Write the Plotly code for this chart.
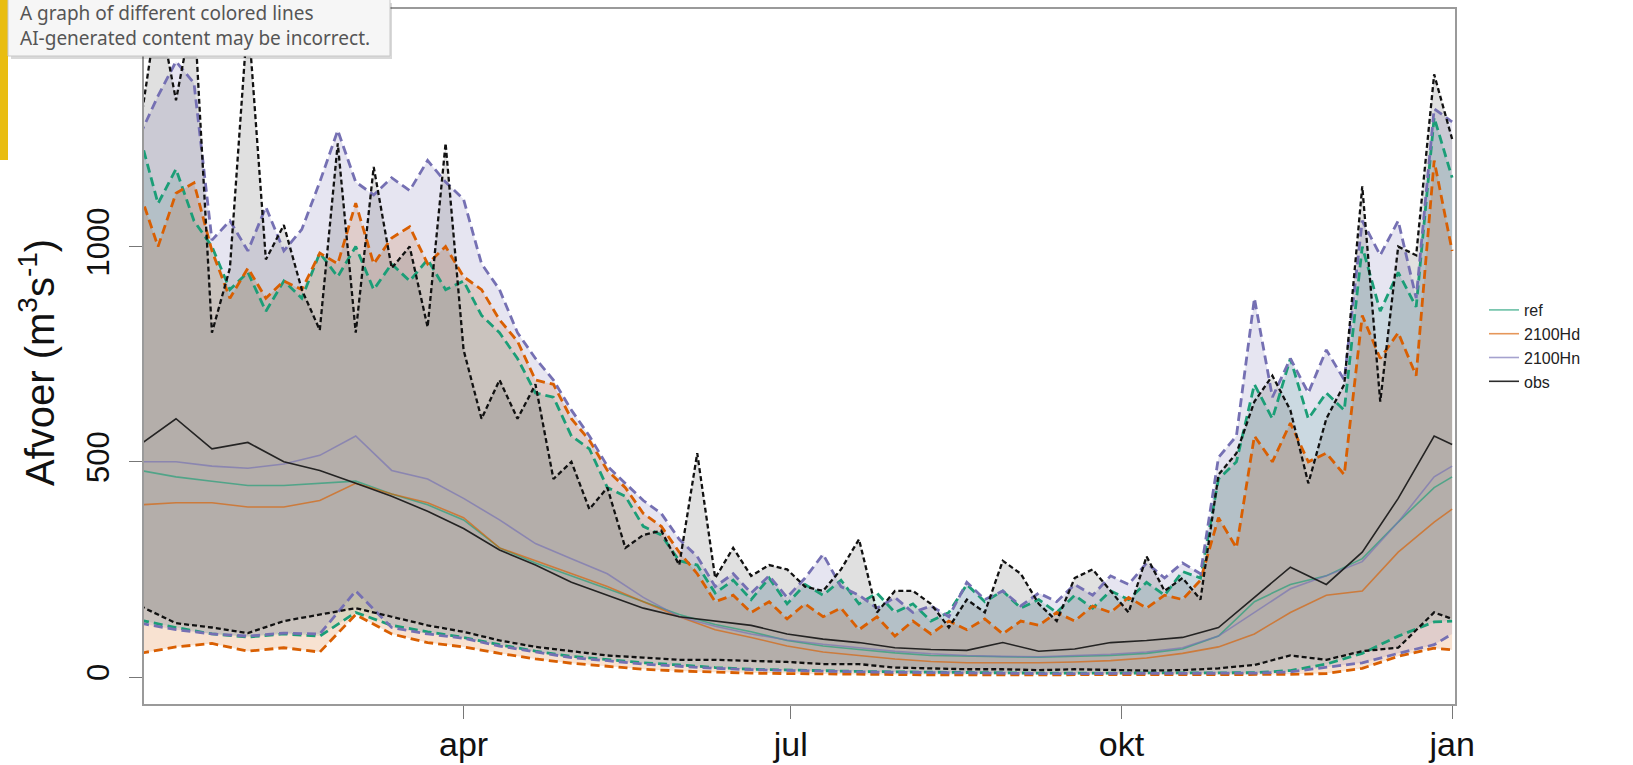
import plotly.graph_objects as go

# ---------------- data (day of year) ----------------
days_hi = list(range(1, 367, 5))               # grid for the maximum (upper dashed) lines
days_lo = list(range(1, 362, 10)) + [366]      # grid for the median and minimum lines

month_days = [91, 182, 274, 366]
month_labels = ["apr", "jul", "okt", "jan"]
y_ticks = [0, 500, 1000, 1500]
y_labels = ["0", "500", "1000", "1500"]

obs_hi = [1280, 1560, 1340, 1560, 800, 950, 1540, 970, 1050, 900,
          806, 1240, 800, 1185, 950, 1000, 813, 1240, 760, 600,
          690, 600, 680, 460, 500, 390, 440, 300, 330, 340,
          260, 520, 230, 300, 235, 260, 250, 210, 200, 250,
          320, 150, 200, 200, 170, 115, 180, 150, 270, 240,
          170, 130, 230, 250, 200, 150, 280, 200, 230, 180,
          470, 520, 640, 700, 620, 450, 600, 680, 1140, 640,
          1000, 980, 1400, 1250]
hn_hi = [1260, 1350, 1430, 1380, 1015, 1060, 990, 1092, 990, 1040,
         1150, 1270, 1150, 1120, 1160, 1130, 1200, 1150, 1110, 960,
         900, 800, 740, 690, 620, 560, 490, 450, 410, 380,
         320, 280, 210, 240, 195, 235, 185, 230, 285, 210,
         190, 160, 185, 150, 165, 140, 220, 180, 200, 165,
         195, 175, 215, 190, 235, 215, 265, 230, 265, 240,
         510, 560, 880, 650, 740, 660, 760, 690, 1060, 980,
         1060, 880, 1320, 1290]
ref_hi = [1255, 1100, 1180, 1060, 1000, 900, 940, 850, 920, 880,
          985, 930, 1000, 900, 960, 920, 970, 900, 920, 840,
          800, 740, 660, 650, 560, 530, 440, 420, 350, 330,
          270, 260, 195, 225, 180, 230, 170, 215, 190, 225,
          170, 195, 150, 170, 130, 150, 215, 175, 200, 160,
          180, 150, 190, 160, 200, 180, 220, 190, 245, 230,
          460, 500, 680, 600, 740, 600, 660, 620, 1000, 850,
          940, 860, 1300, 1160]
hd_hi = [1124, 1000, 1124, 1148, 990, 880, 950, 880, 920, 900,
         985, 960, 1101, 960, 1020, 1046, 960, 1000, 930, 900,
         830, 780, 690, 680, 600, 550, 480, 440, 380, 350,
         290, 240, 175, 190, 150, 175, 135, 170, 140, 160,
         110, 140, 95, 130, 100, 130, 110, 135, 100, 130,
         120, 150, 130, 165, 150, 185, 160, 190, 180, 225,
         370, 300, 560, 500, 590, 500, 520, 470, 840, 740,
         800, 700, 1200, 990]

obs_med = [540, 600, 530, 545, 500, 480, 450, 420, 385, 345,
           295, 260, 220, 190, 160, 140, 130, 120, 100, 88,
           80, 68, 64, 62, 80, 60, 65, 80, 85, 92,
           115, 185, 255, 215, 290, 415, 560, 540]
ref_med = [480, 465, 455, 445, 445, 450, 455, 425, 400, 365,
           300, 265, 235, 205, 175, 145, 122, 105, 85, 72,
           64, 56, 50, 48, 47, 46, 48, 50, 55, 65,
           95, 175, 215, 235, 275, 360, 440, 465]
hd_med = [400, 405, 405, 395, 395, 410, 450, 425, 405, 370,
          300, 270, 240, 210, 175, 140, 110, 92, 72, 58,
          50, 42, 36, 33, 33, 33, 35, 38, 44, 55,
          70, 100, 150, 190, 200, 290, 360, 390]
hn_med = [500, 500, 490, 485, 495, 515, 560, 480, 460, 415,
          365, 310, 275, 240, 185, 140, 118, 100, 86, 76,
          68, 60, 54, 50, 48, 47, 50, 53, 58, 68,
          95, 150, 205, 235, 268, 360, 465, 490]

obs_lo = [165, 125, 115, 102, 130, 145, 160, 140, 120, 105,
          85, 70, 60, 50, 45, 40, 40, 38, 35, 30,
          30, 22, 20, 18, 18, 16, 18, 16, 15, 16,
          20, 28, 50, 40, 60, 68, 150, 135]
ref_lo = [132, 115, 100, 93, 100, 95, 150, 120, 105, 92,
          75, 60, 48, 40, 33, 28, 22, 18, 16, 14,
          13, 12, 11, 10, 10, 9, 9, 9, 9, 9,
          9, 10, 15, 30, 55, 95, 128, 130]
hn_lo = [125, 110, 100, 95, 102, 100, 200, 115, 100, 90,
         72, 58, 45, 38, 30, 25, 20, 17, 15, 13,
         12, 11, 10, 9, 9, 8, 8, 8, 8, 8,
         8, 9, 12, 22, 33, 55, 75, 100]
hd_lo = [55, 70, 78, 60, 68, 58, 145, 100, 80, 70,
         55, 42, 32, 25, 18, 14, 11, 9, 8, 7,
         6, 6, 5, 5, 5, 5, 5, 5, 5, 5,
         5, 5, 6, 8, 20, 48, 67, 63]

series = [
    ("ref", ref_hi, ref_med, ref_lo, (27, 158, 119), 0.14),
    ("2100Hd", hd_hi, hd_med, hd_lo, (217, 95, 2), 0.18),
    ("2100Hn", hn_hi, hn_med, hn_lo, (117, 112, 179), 0.18),
    ("obs", obs_hi, obs_med, obs_lo, (70, 70, 70), 0.17),
]

FONT = "Liberation Sans, Arial, sans-serif"
fig = go.Figure()

# shaded bands (min..max)
for name, hi, med, lo, (r, g, b), a in series:
    fig.add_trace(go.Scatter(
        x=days_hi + days_lo[::-1], y=hi + lo[::-1],
        mode="lines", fill="toself", fillcolor=f"rgba({r},{g},{b},{a})",
        line=dict(width=0), showlegend=False, hoverinfo="skip"))

# dashed max / min lines
for name, hi, med, lo, (r, g, b), a in series:
    is_obs = name == "obs"
    col = "#111111" if is_obs else f"rgb({r},{g},{b})"
    dash = "5px,3px" if is_obs else "9px,5px"
    w = 2.3 if is_obs else 2.8
    fig.add_trace(go.Scatter(x=days_lo, y=lo, mode="lines",
                             line=dict(color=col, width=w, dash=dash),
                             showlegend=False, hoverinfo="skip"))
    fig.add_trace(go.Scatter(x=days_hi, y=hi, mode="lines",
                             line=dict(color=col, width=w, dash=dash),
                             showlegend=False, hoverinfo="skip"))

# median lines (legend entries)
for name, hi, med, lo, (r, g, b), a in series:
    col = "rgba(20,20,20,0.9)" if name == "obs" else f"rgba({r},{g},{b},0.65)"
    fig.add_trace(go.Scatter(x=days_lo, y=med, mode="lines", name=name,
                             line=dict(color=col, width=1.6), hoverinfo="skip"))

L, R, T, B = 144, 1455, 9, 704
W, H = 1633, 765
pw, ph = R - L, B - T
def px(x):
    return (x - L) / pw
def py(y):
    return (B - y) / ph

fig.update_layout(
    width=W, height=H,
    margin=dict(l=L, r=W - R, t=T, b=H - B, pad=0, autoexpand=False),
    paper_bgcolor="white", plot_bgcolor="white",
    font=dict(family=FONT, color="black"),
    showlegend=True,
    legend=dict(x=px(1484), y=py(293), xanchor="left", yanchor="top",
                font=dict(size=16, family=FONT, color="#222"),
                bgcolor="rgba(0,0,0,0)", borderwidth=0, traceorder="normal"),
    xaxis=dict(range=[2.1, 366.8], tickmode="array", tickvals=month_days,
               ticktext=month_labels, showgrid=False, zeroline=False,
               automargin=False,
               showline=True, mirror=True, linecolor="#9a9a9a", linewidth=1.5,
               ticks="outside", ticklen=13, tickcolor="#777", tickwidth=1,
               tickfont=dict(size=34, family=FONT, color="#111"),
               ticklabelstandoff=-4),
    yaxis=dict(range=[-62.7, 1552], tickmode="array", tickvals=y_ticks,
               ticktext=y_labels, tickangle=-90, showgrid=False, zeroline=False,
               automargin=False,
               showline=True, mirror=True, linecolor="#9a9a9a", linewidth=1.5,
               ticks="outside", ticklen=13, tickcolor="#777", tickwidth=1,
               tickfont=dict(size=31, family=FONT, color="#111"),
               ticklabelstandoff=8),
)

fig.add_annotation(x=px(37), y=py(363), xref="paper", yref="paper",
                   text="Afvoer (m<sup>3</sup>s<sup>-1</sup>)", textangle=-90,
                   showarrow=False, xanchor="center", yanchor="middle",
                   font=dict(size=40, family=FONT, color="#111"))

# screenshot overlay: yellow strip and tooltip box
fig.add_shape(type="rect", xref="paper", yref="paper", layer="above",
              x0=px(0), x1=px(8), y0=py(160), y1=py(0),
              fillcolor="#e9bd10", line=dict(width=0))
fig.add_shape(type="rect", xref="paper", yref="paper", layer="above",
              x0=px(11), x1=px(392), y0=py(59), y1=py(3),
              fillcolor="rgba(0,0,0,0.15)", line=dict(width=0))
fig.add_shape(type="rect", xref="paper", yref="paper", layer="above",
              x0=px(8), x1=px(390), y0=py(56), y1=py(-2),
              fillcolor="#f6f6f6", line=dict(color="#c8c8c8", width=1))
fig.add_annotation(x=px(18), y=py(13), xref="paper", yref="paper",
                   text="A graph of different colored lines", showarrow=False,
                   xanchor="left", yanchor="middle",
                   font=dict(size=19, family="Noto Sans, Open Sans, sans-serif", color="#555"))
fig.add_annotation(x=px(18), y=py(38), xref="paper", yref="paper",
                   text="AI-generated content may be incorrect.", showarrow=False,
                   xanchor="left", yanchor="middle",
                   font=dict(size=19, family="Noto Sans, Open Sans, sans-serif", color="#555"))

fig.write_html("out.html", config={"displayModeBar": False},
               post_script="document.body.style.margin='0';document.body.style.overflow='hidden';")
